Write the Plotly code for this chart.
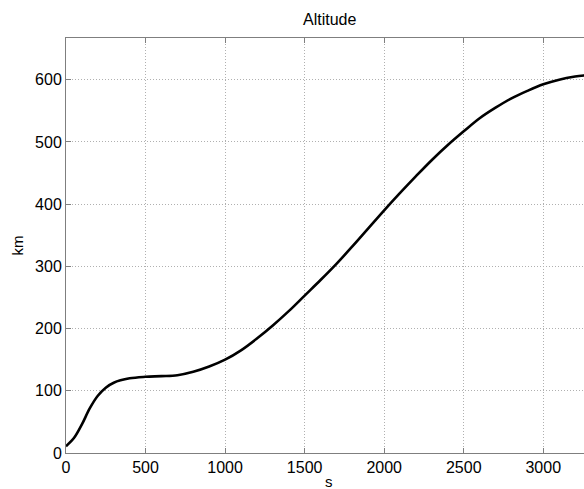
import plotly.graph_objects as go

# Time (s) and altitude (km)
time_s = [0, 50, 100, 150, 200, 250, 300, 400, 500, 600, 700, 800, 900, 1000,
          1100, 1200, 1300, 1400, 1500, 1600, 1700, 1800, 1900, 2000, 2100,
          2200, 2300, 2400, 2500, 2600, 2700, 2800, 2900, 3000, 3100, 3200,
          3260, 3300]
altitude_km = [11, 24, 46, 72, 92, 105, 113, 120, 122.5, 123.5, 125, 130.5,
               139, 150, 165, 184, 205, 228, 253, 278, 304, 332, 361, 390,
               418, 445, 471, 495, 517, 538, 555, 570, 582, 592.5, 600, 605,
               607, 608]

x_ticks = [0, 500, 1000, 1500, 2000, 2500, 3000]
y_ticks = [0, 100, 200, 300, 400, 500, 600]

FONT = "Liberation Sans, Arial, Helvetica, sans-serif"
AX = "#7f7f7f"
GRID = "#b0b0b0"

fig = go.Figure()
fig.add_trace(go.Scatter(x=time_s, y=altitude_km, mode="lines",
                         line=dict(color="black", width=2.6, shape="spline", smoothing=1.0),
                         showlegend=False))

L, R, T, B = 66, 0, 38, 36
W, H = 584, 489
pw = W - L - R
ph = H - T - B

fig.update_layout(
    width=W, height=H,
    margin=dict(l=L, r=R, t=T, b=B, pad=0),
    paper_bgcolor="white", plot_bgcolor="white",
    font=dict(family=FONT, size=16, color="black"),
    xaxis=dict(range=[0, 3256], tickvals=x_ticks, ticktext=[str(v) for v in x_ticks],
               showline=True, linecolor=AX, linewidth=1, mirror="ticks",
               ticks="inside", ticklen=5, tickcolor=AX,
               showgrid=True, gridcolor=GRID, griddash="1px,2px", gridwidth=1,
               zeroline=False, tickfont=dict(size=16)),
    yaxis=dict(range=[0, 667], tickvals=y_ticks, ticktext=[str(v) for v in y_ticks],
               showline=True, linecolor=AX, linewidth=1, mirror=False,
               ticks="inside", ticklen=5, tickcolor=AX,
               showgrid=True, gridcolor=GRID, griddash="1px,2px", gridwidth=1,
               zeroline=False, tickfont=dict(size=16)),
)

cx = (329 - L) / pw
fig.add_annotation(text="Altitude", xref="paper", yref="paper",
                   x=cx, y=1 + (T - 20) / ph, xanchor="center", yanchor="middle",
                   showarrow=False, font=dict(size=16, family=FONT))
fig.add_annotation(text="km", xref="paper", yref="paper", textangle=-90,
                   x=(17 - L) / pw, y=(H - B - 245.5) / ph, xanchor="center", yanchor="middle",
                   showarrow=False, font=dict(size=15, family=FONT))
fig.add_annotation(text="s", xref="paper", yref="paper",
                   x=cx, y=-(H + 3 - (H - B)) / ph, xanchor="center", yanchor="bottom",
                   showarrow=False, font=dict(size=15, family=FONT))

fig.write_html("out.html")
